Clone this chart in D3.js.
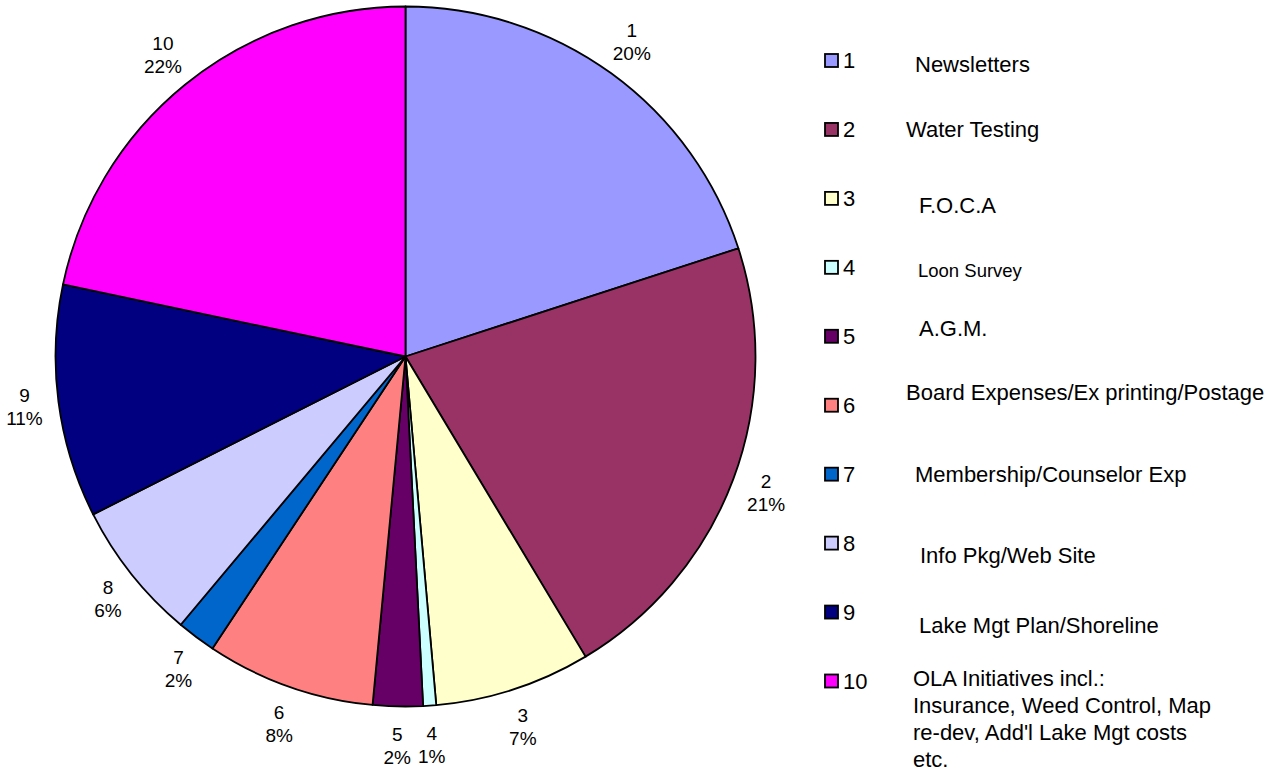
<!DOCTYPE html>
<html>
<head>
<meta charset="utf-8">
<script src="https://cdn.jsdelivr.net/npm/d3@7"></script>
<style>
  html, body { margin: 0; padding: 0; background: #fff; }
  svg { display: block; font-family: "Liberation Sans", Arial, sans-serif; }
</style>
</head>
<body>
<svg id="chart" width="1275" height="771"></svg>
<script>
// ---- data ----
const categories = ["1", "2", "3", "4", "5", "6", "7", "8", "9", "10"];
const values = [20.0, 21.4, 7.2, 0.6, 2.3, 7.8, 1.8, 6.45, 10.75, 21.7];
const descriptions = [
  ["Newsletters"],
  ["Water Testing"],
  ["F.O.C.A"],
  ["Loon Survey"],
  ["A.G.M."],
  ["Board Expenses/Ex printing/Postage"],
  ["Membership/Counselor Exp"],
  ["Info Pkg/Web Site"],
  ["Lake Mgt Plan/Shoreline"],
  ["OLA Initiatives incl.:", "Insurance, Weed Control, Map", "re-dev, Add'l Lake Mgt costs", "etc."]
];
const colors = ["#9999FF", "#993366", "#FFFFCC", "#CCFFFF", "#660066",
                "#FF8080", "#0066CC", "#CCCCFF", "#000080", "#FF00FF"];

// ---- layout (not data) ----
const descLayout = [
  {x: 915, dy: 4, size: 22}, {x: 906, dy: 0, size: 22}, {x: 919, dy: 7, size: 22},
  {x: 918, dy: 2, size: 18.5}, {x: 919, dy: -7.5, size: 22}, {x: 906, dy: -12.5, size: 22},
  {x: 915, dy: 0, size: 22}, {x: 920, dy: 12.5, size: 22}, {x: 919, dy: 13.5, size: 22},
  {x: 913, dy: -3, size: 22}
];

const svg = d3.select("#chart");
const cx = 405.5, cy = 356.5, R = 350;

const pie = d3.pie().sort(null).value(d => d);
const arcs = pie(values);
const total = d3.sum(values);
const arcGen = d3.arc().innerRadius(0).outerRadius(R);

const g = svg.append("g").attr("transform", `translate(${cx},${cy})`);
g.selectAll("path.slice")
  .data(arcs)
  .join("path")
  .attr("class", "slice")
  .attr("d", arcGen)
  .attr("fill", (d, i) => colors[i])
  .attr("stroke", "#000")
  .attr("stroke-width", 1.8)
  .attr("stroke-linejoin", "round");

// ---- slice labels ----
const fmt = d3.format(".0%");
const lblSize = 19, lineH = 23, gap = 16;
arcs.forEach((a, i) => {
  const mid = (a.startAngle + a.endAngle) / 2;
  const s = Math.sin(mid), c = -Math.cos(mid);
  const t = g.append("text")
    .attr("font-size", lblSize)
    .attr("text-anchor", "middle")
    .attr("fill", "#000");
  const l1 = t.append("tspan").text(categories[i]);
  const l2 = t.append("tspan").text(fmt(values[i] / total));
  const w = Math.max(l1.node().getComputedTextLength(), l2.node().getComputedTextLength());
  const h = lineH * 2;
  const ax = (R + gap) * s + s * w / 2;
  const ay = (R + gap) * c + c * h / 2;
  l1.attr("x", ax).attr("y", ay - lineH / 2 + 6.8);
  l2.attr("x", ax).attr("y", ay + lineH / 2 + 6.8);
});

// ---- legend ----
const legY = d3.scaleLinear().domain([0, 9]).range([60.5, 681]);
const leg = svg.append("g");
categories.forEach((cat, i) => {
  const yc = legY(i);
  leg.append("rect")
    .attr("x", 825).attr("y", yc - 6.5)
    .attr("width", 13).attr("height", 13)
    .attr("fill", colors[i])
    .attr("stroke", "#000").attr("stroke-width", 1.8);
  leg.append("text")
    .attr("x", 843).attr("y", yc + 7.5)
    .attr("font-size", 22).attr("fill", "#000")
    .text(cat);
  const L = descLayout[i];
  const dt = leg.append("text")
    .attr("font-size", L.size).attr("fill", "#000");
  descriptions[i].forEach((line, k) => {
    dt.append("tspan")
      .attr("x", L.x)
      .attr("y", yc + 7.5 + L.dy + k * 27)
      .text(line);
  });
});
</script>
</body>
</html>
